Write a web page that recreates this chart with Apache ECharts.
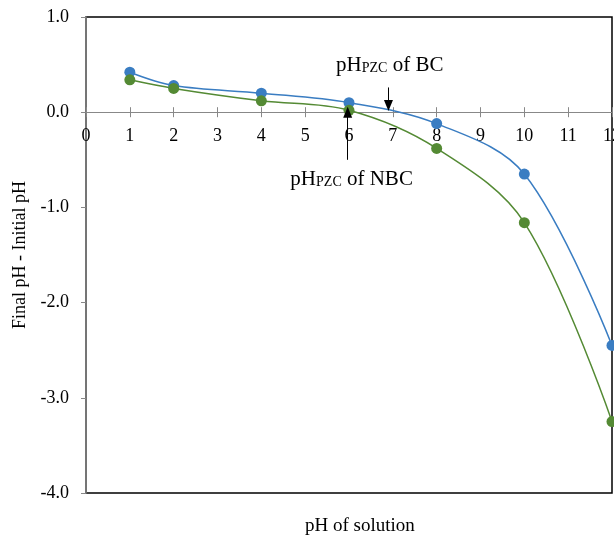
<!DOCTYPE html>
<html>
<head>
<meta charset="utf-8">
<script src="https://cdn.jsdelivr.net/npm/echarts@6/dist/echarts.min.js"></script>
<style>
  html, body { margin: 0; padding: 0; background: #fff; }
  #main { width: 614px; height: 536px; }
</style>
</head>
<body>
<div id="main"></div>
<script>
// pH of solution vs change in pH
var phValues = [1, 2, 4, 6, 8, 10, 12];
var bcDelta = [0.42, 0.28, 0.20, 0.10, -0.12, -0.65, -2.45];
var nbcDelta = [0.34, 0.25, 0.12, 0.02, -0.38, -1.16, -3.25];
var yTicks = [1, 0, -1, -2, -3, -4];

var font = "Liberation Serif";
var gridTop = 17, gridBottom = 43, chartH = 536;
// distance from the bottom edge of the grid up to the y = 0 line
var zeroOffset = (chartH - gridTop - gridBottom) * (0 - yTicks[yTicks.length - 1]) / (yTicks[0] - yTicks[yTicks.length - 1]);

function pairs(xs, ys) {
  return xs.map(function (x, i) { return [x, ys[i]]; });
}

var myChart = echarts.init(document.getElementById("main"));

var arrowLine = { color: "#000", width: 1, type: "solid" };
var noteLabel = function (txt) {
  return {
    show: true, position: "inside", color: "#000", fontFamily: font,
    formatter: txt, fontSize: 21,
    rich: { s: { fontSize: 14, fontFamily: font, color: "#000", padding: [6, 0, 0, 0] } }
  };
};

myChart.setOption({
  animation: false,
  grid: {
    left: 86, right: 2, top: gridTop, bottom: gridBottom,
    outerBoundsMode: "none", containLabel: false,
    show: true, borderColor: "#000", borderWidth: 1.5, backgroundColor: "#fff"
  },
  xAxis: [
    {
      type: "value", min: 0, max: 12, interval: 1, position: "bottom", offset: -zeroOffset,
      axisLine: { onZero: false, lineStyle: { color: "#888", width: 1 } },
      axisTick: { show: true, inside: false, length: 5, lineStyle: { color: "#888" } },
      axisLabel: { color: "#000", fontFamily: font, fontSize: 18, margin: 15 },
      splitLine: { show: false }
    },
    {
      type: "value", min: 0, max: 12, interval: 1, position: "bottom", offset: -zeroOffset,
      axisLine: { onZero: false, show: false },
      axisTick: { show: true, inside: true, length: 5, lineStyle: { color: "#888" } },
      axisLabel: { show: false },
      splitLine: { show: false }
    }
  ],
  yAxis: {
    type: "value", min: yTicks[yTicks.length - 1], max: yTicks[0], interval: 1,
    name: "Final pH - Initial pH", nameLocation: "middle", nameGap: 56,
    nameTextStyle: { color: "#000", fontFamily: font, fontSize: 18 },
    axisLine: { show: true, onZero: false, lineStyle: { color: "#888", width: 1.5 } },
    axisTick: { show: true, length: 5, lineStyle: { color: "#888" } },
    axisLabel: {
      color: "#000", fontFamily: font, fontSize: 18, margin: 17,
      formatter: function (v) { return v.toFixed(1); }
    },
    splitLine: { show: false }
  },
  graphic: [
    {
      type: "text", left: 305, top: 517,
      style: { text: "pH of solution", fill: "#000", font: "19px " + font }
    }
  ],
  series: [
    {
      name: "BC", type: "line", smooth: 0.35,
      data: pairs(phValues, bcDelta),
      symbol: "circle", symbolSize: 11,
      lineStyle: { color: "#3A7DC2", width: 1.5 },
      itemStyle: { color: "#3A7DC2" },
      markLine: {
        silent: true, symbol: ["none", "triangle"], symbolSize: [9, 11],
        label: { show: false }, lineStyle: arrowLine,
        data: [[{ coord: [6.9, 0.26] }, { coord: [6.9, 0.07] }]]
      },
      markPoint: {
        silent: true, symbol: "circle", symbolSize: 0,
        label: noteLabel("pH{s|PZC} of BC"),
        data: [{ coord: [6.93, 0.49] }]
      }
    },
    {
      name: "NBC", type: "line", smooth: 0.35,
      data: pairs(phValues, nbcDelta),
      symbol: "circle", symbolSize: 11,
      lineStyle: { color: "#548A34", width: 1.5 },
      itemStyle: { color: "#548A34" },
      markLine: {
        silent: true, symbol: ["none", "triangle"], symbolSize: [9, 11],
        label: { show: false }, lineStyle: arrowLine,
        data: [[{ coord: [5.97, -0.5] }, { coord: [5.97, 0.0] }]]
      },
      markPoint: {
        silent: true, symbol: "circle", symbolSize: 0,
        label: noteLabel("pH{s|PZC} of NBC"),
        data: [{ coord: [6.06, -0.71] }]
      }
    }
  ]
});
</script>
</body>
</html>
